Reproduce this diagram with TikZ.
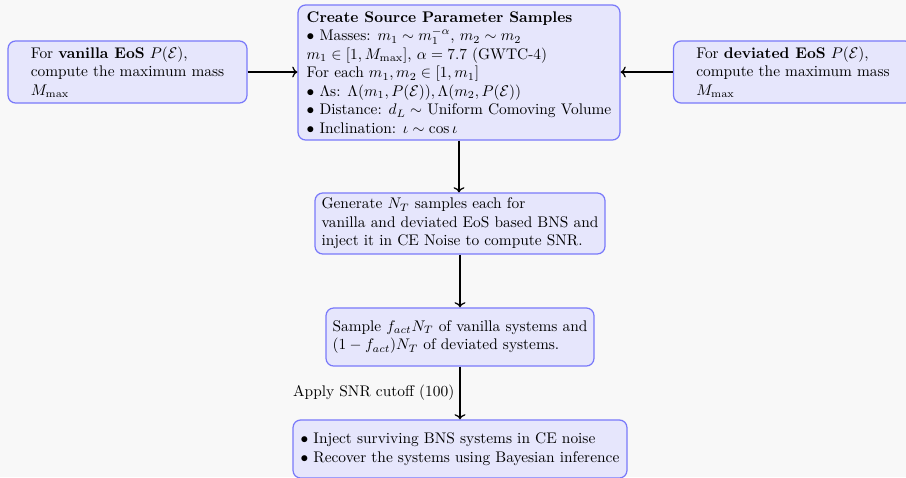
\documentclass[tikz,border=0pt]{standalone}
\usetikzlibrary{arrows.meta}
\definecolor{pagebg}{RGB}{248,248,248}
\definecolor{boxfill}{RGB}{230,230,252}
\definecolor{boxline}{RGB}{122,122,250}
\tikzset{
  flowbox/.style={draw=boxline, fill=boxfill, thick, rounded corners=5pt,
    align=left, inner sep=2pt},
  arr/.style={->, thick, black},
}
\begin{document}
\begin{tikzpicture}[x=0.6494pt, y=-0.6494pt]
  \fill[pagebg] (0,0) rectangle (906,477);
  \useasboundingbox (0,0) rectangle (906,477);

  % central column
  \node[flowbox, minimum width=209.1pt, minimum height=87.7pt] (src) at (459,72.5) {%
    \textbf{Create Source Parameter Samples}\\
    $\bullet$ Masses: $m_1 \sim m_1^{-\alpha}$, $m_2 \sim m_2$\\
    $m_1 \in [1, M_{\max}]$, $\alpha = 7.7$ (GWTC-4)\\
    For each $m_1, m_2 \in [1, m_1]$\\
    $\bullet$ $\Lambda$s: $\Lambda(m_1, P(\mathcal{E})), \Lambda(m_2, P(\mathcal{E}))$\\
    $\bullet$ Distance: $d_L \sim$ Uniform Comoving Volume\\
    $\bullet$ Inclination: $\iota \sim \cos\iota$};

  \node[flowbox, minimum width=188.3pt, minimum height=39.6pt] (gen) at (460,223.5) {%
    Generate $N_T$ samples each for\\
    vanilla and deviated EoS based BNS and\\
    inject it in CE Noise to compute SNR.};

  \node[flowbox, minimum width=174.0pt, minimum height=37.7pt] (mix) at (460,337) {%
    Sample $f_{act}N_T$ of vanilla systems and\\
    $(1-f_{act})N_T$ of deviated systems.};

  \node[flowbox, minimum width=216.9pt, minimum height=37.7pt] (inj) at (460,449) {%
    $\bullet$ Inject surviving BNS systems in CE noise\\
    $\bullet$ Recover the systems using Bayesian inference};

  % side inputs
  \node[flowbox, minimum width=155.2pt, minimum height=40.3pt] (van) at (127.5,72) {%
    For \textbf{vanilla EoS} $P(\mathcal{E})$,\\
    compute the maximum mass\\
    $M_{\max}$};

  \node[flowbox, minimum width=155.2pt, minimum height=40.3pt] (dev) at (793,72) {%
    For \textbf{deviated EoS} $P(\mathcal{E})$,\\
    compute the maximum mass\\
    $M_{\max}$};

  % connectors
  \draw[arr] (van.east) -- (van.east -| src.west);
  \draw[arr] (dev.west) -- (dev.west -| src.east);
  \draw[arr] (src.south) -- (src.south |- gen.north);
  \draw[arr] (gen.south) -- (mix.north);
  \draw[arr] (mix.south) -- node[midway, left] {Apply SNR cutoff (100)} (inj.north);
\end{tikzpicture}
\end{document}
